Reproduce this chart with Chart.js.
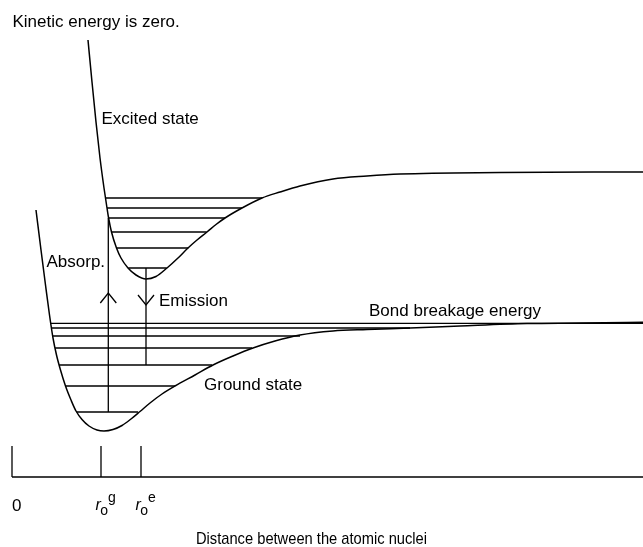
<!DOCTYPE html>
<html>
<head>
<meta charset="utf-8">
<script src="https://cdn.jsdelivr.net/npm/chart.js@4.4.1/dist/chart.umd.min.js"></script>
<style>
  html, body { margin: 0; padding: 0; background: #fff; }
  #wrap { width: 643px; height: 547px; }
</style>
</head>
<body>
<div id="wrap"><canvas id="chart" width="643" height="547"></canvas></div>
<script>
// x = distance between nuclei, E = energy (arbitrary units)
const groundX = [0.24, 0.29, 0.335, 0.375, 0.41, 0.445, 0.485, 0.535, 0.59, 0.64, 0.70, 0.77, 0.85, 0.92, 1.01, 1.10, 1.19, 1.28, 1.38, 1.50, 1.63, 1.83, 2.01, 2.21, 2.41, 2.63, 2.88, 3.21, 3.55, 3.98, 4.48, 5.15, 6.31];
const groundE = [2.67, 2.27, 1.92, 1.62, 1.39, 1.22, 1.07, 0.91, 0.77, 0.66, 0.575, 0.51, 0.47, 0.46, 0.475, 0.515, 0.58, 0.655, 0.74, 0.83, 0.91, 1.02, 1.12, 1.21, 1.29, 1.36, 1.42, 1.46, 1.475, 1.49, 1.51, 1.534, 1.547];

const excitedX = [0.76, 0.80, 0.84, 0.88, 0.92, 0.95, 0.966, 0.995, 1.045, 1.09, 1.16, 1.24, 1.34, 1.44, 1.55, 1.66, 1.76, 1.85, 1.95, 2.04, 2.13, 2.30, 2.50, 2.68, 2.88, 3.21, 3.55, 3.88, 4.88, 6.31];
const excitedE = [4.37, 3.95, 3.55, 3.19, 2.89, 2.69, 2.59, 2.45, 2.29, 2.19, 2.09, 2.02, 1.98, 2.005, 2.09, 2.19, 2.29, 2.37, 2.45, 2.525, 2.59, 2.69, 2.79, 2.85, 2.91, 2.98, 3.01, 3.03, 3.045, 3.05];

// vibrational levels: energy, left end, right end
const groundLevelE = [1.537, 1.49, 1.41, 1.29, 1.12, 0.91, 0.65];
const groundLevelFrom = [0.39, 0.395, 0.407, 0.431, 0.472, 0.535, 0.647];
const groundLevelTo = [6.31, 3.98, 2.88, 2.40, 2.00, 1.63, 1.26];

const excitedLevelE = [2.79, 2.69, 2.59, 2.45, 2.29, 2.09];
const excitedLevelFrom = [0.94, 0.95, 0.963, 0.997, 1.047, 1.163];
const excitedLevelTo = [2.50, 2.30, 2.13, 1.947, 1.763, 1.547];

// absorption (up) and emission (down)
const transitionX = [0.963, 1.34];
const transitionFrom = [0.65, 2.09];
const transitionTo = [2.59, 1.12];
const arrowTipE = [1.84, 1.72];

// distance axis
const tickValues = [0, 0.89, 1.29];
const tickLabels = ['0', 'g', 'e'];
const tickHeight = 0.31;
const axisEnd = 6.31;

const FONT = '"Liberation Sans", Arial, Helvetica, sans-serif';

function line(points, width) {
  return {
    data: points,
    showLine: true,
    borderColor: '#000',
    borderWidth: width,
    pointRadius: 0,
    fill: false
  };
}

const datasets = [];
datasets.push(Object.assign(line(groundX.map((x, i) => ({ x: x, y: groundE[i] })), 1.5), { cubicInterpolationMode: 'monotone' }));
datasets.push(Object.assign(line(excitedX.map((x, i) => ({ x: x, y: excitedE[i] })), 1.5), { cubicInterpolationMode: 'monotone' }));

groundLevelE.forEach((e, i) => {
  datasets.push(line([{ x: groundLevelFrom[i], y: e }, { x: groundLevelTo[i], y: e }], 1.3));
});
excitedLevelE.forEach((e, i) => {
  datasets.push(line([{ x: excitedLevelFrom[i], y: e }, { x: excitedLevelTo[i], y: e }], 1.3));
});

transitionX.forEach((x, i) => {
  datasets.push(line([{ x: x, y: transitionFrom[i] }, { x: x, y: transitionTo[i] }], 1.3));
  // arrow head points toward the end level
  const dir = transitionTo[i] > transitionFrom[i] ? -1 : 1;
  const tip = arrowTipE[i];
  datasets.push(line([
    { x: x - 0.08, y: tip + dir * 0.1 },
    { x: x, y: tip },
    { x: x + 0.08, y: tip + dir * 0.1 }
  ], 1.3));
});

datasets.push(line([{ x: tickValues[0], y: 0 }, { x: axisEnd, y: 0 }], 1.3));
tickValues.forEach(t => {
  datasets.push(line([{ x: t, y: 0 }, { x: t, y: tickHeight }], 1.3));
});

const textPlugin = {
  id: 'texts',
  afterDatasetsDraw(chart) {
    const ctx = chart.ctx;
    const xs = chart.scales.x;
    ctx.save();
    ctx.fillStyle = '#000';
    ctx.textBaseline = 'alphabetic';
    ctx.textAlign = 'left';
    ctx.font = '17px ' + FONT;

    ctx.fillText('Kinetic energy is zero.', 12.5, 26.5);
    ctx.fillText('Excited state', 101.5, 123.5);
    ctx.fillText('Absorp.', 46.5, 266.5);
    ctx.fillText('Emission', 159, 305.5);
    ctx.fillText('Bond breakage energy', 369, 315.5);
    ctx.fillText('Ground state', 204, 389.5);
    ctx.fillText('Distance between the atomic nuclei', 196, 544, 231);

    // tick labels: 0, r_o^g, r_o^e
    tickValues.forEach((t, i) => {
      const px = xs.getPixelForValue(t);
      if (i === 0) {
        ctx.font = '17px ' + FONT;
        ctx.fillText(tickLabels[i], px, 511);
        return;
      }
      let cx = px - 5.5;
      ctx.font = 'italic 16px ' + FONT;
      ctx.fillText('r', cx, 510);
      cx += ctx.measureText('r').width - 0.5;
      ctx.font = '14px ' + FONT;
      ctx.fillText('o', cx, 515);
      cx += ctx.measureText('o').width;
      ctx.fillText(tickLabels[i], cx, 502);
    });
    ctx.restore();
  }
};

new Chart(document.getElementById('chart'), {
  type: 'scatter',
  data: { datasets: datasets },
  options: {
    responsive: false,
    animation: false,
    layout: { padding: 0 },
    plugins: {
      legend: { display: false },
      tooltip: { enabled: false }
    },
    scales: {
      x: { type: 'linear', display: false, min: -0.12, max: 6.31 },
      y: { type: 'linear', display: false, min: -0.70, max: 4.77 }
    }
  },
  plugins: [textPlugin]
});
</script>
</body>
</html>
